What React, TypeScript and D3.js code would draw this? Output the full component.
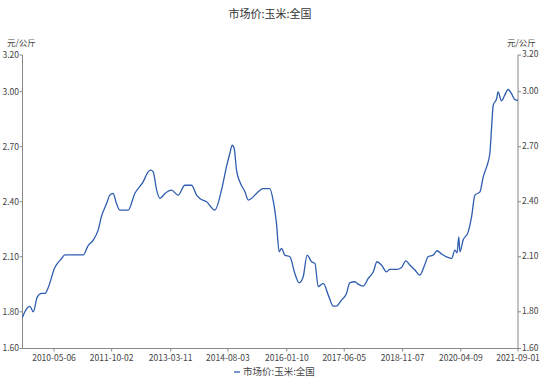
import React from "react";
import * as d3 from "d3";

const TITLE = "市场价:玉米:全国";
const UNIT = "元/公斤";

const dates: string[] = [
  "2009-07-29","2009-08-19","2009-10-03","2009-11-02","2009-12-07","2010-01-16","2010-02-15","2010-03-14",
  "2010-05-12","2010-07-12","2010-08-10","2011-01-21","2011-03-05","2011-04-19","2011-06-03","2011-07-03",
  "2011-08-17","2011-09-16","2011-10-15","2011-11-14","2011-12-14","2012-02-26","2012-04-25","2012-07-08",
  "2012-08-22","2012-09-13","2012-10-06","2012-11-06","2012-12-05","2013-01-19","2013-03-18","2013-05-16",
  "2013-07-15","2013-09-13","2013-10-28","2013-11-26","2014-01-25","2014-04-08","2014-06-07","2014-07-21",
  "2014-08-20","2014-09-10","2014-09-28","2014-10-19","2014-11-18","2015-01-02","2015-02-01","2015-03-01",
  "2015-04-15","2015-06-13","2015-08-11","2015-09-10","2015-10-10","2015-11-03","2015-11-24","2015-12-23",
  "2016-02-07","2016-03-21","2016-04-29","2016-06-04","2016-07-09","2016-08-18","2016-09-17","2016-10-16",
  "2016-11-30","2017-01-14","2017-02-28","2017-03-27","2017-05-11","2017-06-25","2017-07-24","2017-09-08",
  "2017-10-07","2017-11-21","2018-01-05","2018-02-19","2018-03-24","2018-05-03","2018-06-17","2018-07-16",
  "2018-09-14","2018-10-29","2018-12-06","2019-01-11","2019-02-25","2019-04-09","2019-05-23","2019-06-22",
  "2019-08-06","2019-09-11","2019-10-20","2019-12-04","2020-01-18","2020-02-17","2020-03-07","2020-03-22",
  "2020-04-01","2020-04-30","2020-06-14","2020-07-14","2020-08-13","2020-09-27","2020-10-26","2020-11-25",
  "2020-12-24","2021-01-09","2021-01-23","2021-02-23","2021-03-07","2021-04-07","2021-05-06","2021-06-05",
  "2021-07-05","2021-08-04","2021-09-01"
];

const prices: number[] = [
  1.77,1.80,1.83,1.80,1.88,1.90,1.90,1.93,
  2.04,2.09,2.11,2.11,2.16,2.19,2.245,2.32,
  2.39,2.436,2.445,2.39,2.354,2.354,2.445,2.508,
  2.563,2.572,2.563,2.463,2.418,2.445,2.463,2.436,
  2.49,2.49,2.436,2.418,2.40,2.354,2.463,2.59,
  2.663,2.708,2.69,2.572,2.508,2.454,2.409,2.418,
  2.445,2.472,2.472,2.409,2.282,2.127,2.146,2.109,
  2.10,2.01,1.958,1.991,2.109,2.073,2.064,1.937,
  1.955,1.891,1.831,1.831,1.864,1.90,1.958,1.964,
  1.951,1.94,1.982,2.018,2.073,2.055,2.018,2.031,
  2.031,2.042,2.078,2.055,2.028,2.00,2.055,2.10,
  2.109,2.133,2.115,2.10,2.091,2.136,2.122,2.209,
  2.127,2.191,2.236,2.318,2.436,2.454,2.536,2.59,
  2.663,2.808,2.926,2.963,2.999,2.95,2.981,3.012,
  2.99,2.957,2.953
];

const xTickLabels: string[] = [
  "2010-05-06","2011-10-02","2013-03-11","2014-08-03","2016-01-10",
  "2017-06-05","2018-11-07","2020-04-09","2021-09-01"
];
const yTicks: number[] = [1.6, 1.8, 2.1, 2.4, 2.7, 3.0, 3.2];

const W = 550, H = 385;
const M = { left: 22.5, right: 518, top: 55, bottom: 348.5 };
const FONT = "'Noto Sans CJK SC', 'Noto Sans', sans-serif";

export default function App() {
  const parse = d3.timeParse("%Y-%m-%d");
  const data = dates.map((d, i) => ({ date: parse(d) as Date, v: prices[i] }));
  const x = d3.scaleTime()
    .domain([parse("2009-07-29") as Date, parse("2021-09-01") as Date])
    .range([M.left, M.right]);
  const y = d3.scaleLinear().domain([1.6, 3.2]).range([M.bottom, M.top]);
  const line = d3.line<{ date: Date; v: number }>()
    .x(d => x(d.date))
    .y(d => y(d.v))
    .curve(d3.curveMonotoneX);

  const axisColor = "#888";
  const textColor = "#444";
  const lineColor = "#2f5db0";

  return (
    <svg width={W} height={H} style={{ position: "absolute", left: 0, top: 0, background: "#fff" }} fontFamily={FONT}>
      <text x={270} y={18} textAnchor="middle" fontSize={11} fill="#333">{TITLE}</text>

      <text x={7} y={46} fontSize={8.5} fill={textColor}>{UNIT}</text>
      <text x={507} y={46} fontSize={8.5} fill={textColor}>{UNIT}</text>

      {/* left axis */}
      <line x1={M.left} x2={M.left} y1={M.top} y2={M.bottom} stroke={axisColor} strokeWidth={1} />
      {yTicks.map(t => (
        <g key={"l" + t}>
          <line x1={M.left - 3} x2={M.left} y1={y(t)} y2={y(t)} stroke={axisColor} />
          <text x={M.left - 3.5} y={y(t)} dy="0.35em" textAnchor="end" fontSize={8.5} fill={textColor}>{t.toFixed(2)}</text>
        </g>
      ))}

      {/* right axis */}
      <line x1={M.right} x2={M.right} y1={M.top} y2={M.bottom} stroke={axisColor} strokeWidth={1} />
      {yTicks.map(t => (
        <g key={"r" + t}>
          <line x1={M.right} x2={M.right + 3} y1={y(t)} y2={y(t)} stroke={axisColor} />
          <text x={M.right + 4} y={y(t) - 0.5} dy="0.35em" textAnchor="start" fontSize={8.5} fill={textColor}>{t.toFixed(2)}</text>
        </g>
      ))}

      {/* bottom axis */}
      <line x1={M.left} x2={M.right} y1={M.bottom} y2={M.bottom} stroke={axisColor} strokeWidth={1} />
      {xTickLabels.map(s => {
        const px = x(parse(s) as Date);
        return (
          <g key={s}>
            <line x1={px} x2={px} y1={M.bottom} y2={M.bottom + 3} stroke={axisColor} />
            <text x={px} y={M.bottom + 10} dy="0.35em" textAnchor="middle" fontSize={8.5} fill={textColor}>{s}</text>
          </g>
        );
      })}

      <path d={line(data) || ""} fill="none" stroke={lineColor} strokeWidth={1.3} />

      {/* legend */}
      <line x1={234} x2={240} y1={372} y2={372} stroke={lineColor} strokeWidth={1.3} />
      <text x={243} y={372} dy="0.35em" fontSize={9.5} fill={textColor}>{TITLE}</text>
    </svg>
  );
}
